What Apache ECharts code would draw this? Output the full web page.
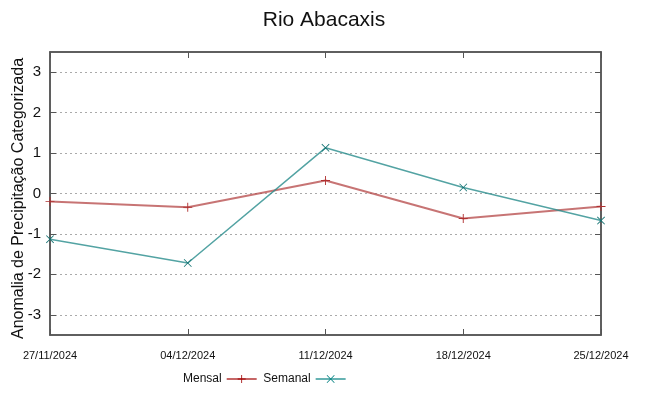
<!DOCTYPE html>
<html><head><meta charset="utf-8">
<script src="https://cdn.jsdelivr.net/npm/echarts@6/dist/echarts.min.js"></script>
<style>html,body{margin:0;padding:0;background:#fff}#c{width:648px;height:396px}</style>
</head><body><div id="c"></div>
<script>
const categories = ['27/11/2024','04/12/2024','11/12/2024','18/12/2024','25/12/2024'];
const mensal = [-0.20, -0.34, 0.32, -0.62, -0.32];
const semanal = [-1.13, -1.72, 1.13, 0.15, -0.67];
const yTicks = [-3,-2,-1,0,1,2,3];

const plusPath = 'path://M4.5,0 L5.5,0 L5.5,4.5 L10,4.5 L10,5.5 L5.5,5.5 L5.5,10 L4.5,10 L4.5,5.5 L0,5.5 L0,4.5 L4.5,4.5 Z';
const crossPath = 'path://M0,0.7 L0.7,0 L5,4.3 L9.3,0 L10,0.7 L5.7,5 L10,9.3 L9.3,10 L5,5.7 L0.7,10 L0,9.3 L4.3,5 Z';

const chart = echarts.init(document.getElementById('c'));
const axisLineStyle = {color:'#555', width:1.5};
chart.setOption({
  animation:false,
  title:{text:'Rio Abacaxis', left:'center', top:5, textStyle:{fontFamily:'Liberation Sans', fontSize:21, fontWeight:'normal', color:'#111'}},
  grid:{left:50, right:47, top:52, bottom:61, show:true, borderColor:'#555', borderWidth:1.5, containLabel:false, outerBoundsMode:'none'},
  legend:{top:373, left:183, padding:0, align:'right', itemWidth:30, itemHeight:10, itemGap:6,
    textStyle:{fontFamily:'Liberation Sans', fontSize:12, color:'#111'},
    data:[
      {name:'Mensal', itemStyle:{color:'#a00000'}, lineStyle:{color:'#a00000', width:1.2}},
      {name:'Semanal', itemStyle:{color:'#008080'}, lineStyle:{color:'#008080', width:1.2}}
    ]},
  xAxis:[
    {type:'category', data:categories, boundaryGap:false, position:'bottom',
     axisLine:{onZero:false, lineStyle:axisLineStyle}, axisTick:{inside:true, length:6, lineStyle:{color:'#555'}},
     axisLabel:{margin:15, fontFamily:'Liberation Sans', fontSize:11, color:'#111', interval:0},
     splitLine:{show:false}},
    {type:'category', data:categories, boundaryGap:false, position:'top',
     axisLine:{onZero:false, lineStyle:axisLineStyle}, axisTick:{inside:true, length:6, lineStyle:{color:'#555'}},
     axisLabel:{show:false}, splitLine:{show:false}}
  ],
  yAxis:[
    {type:'value', min:-3.5, max:3.5, position:'left',
     name:'Anomalia de Precipitação Categorizada', nameLocation:'middle', nameGap:23, nameRotate:90, nameMoveOverlap:false,
     nameTextStyle:{fontFamily:'Liberation Sans', fontSize:16, color:'#111', padding:[0,10,0,0]},
     axisLine:{show:true, onZero:false, lineStyle:axisLineStyle},
     axisTick:{show:true, inside:true, length:6, customValues:yTicks, lineStyle:{color:'#555'}},
     axisLabel:{fontFamily:'Liberation Sans', fontSize:15, color:'#111', margin:9, customValues:yTicks},
     splitLine:{show:true, lineStyle:{color:'#aaa', type:[2,3], width:1}}},
    {type:'value', min:-3.5, max:3.5, position:'right',
     axisLine:{show:true, onZero:false, lineStyle:axisLineStyle},
     axisTick:{show:true, inside:true, length:6, customValues:yTicks, lineStyle:{color:'#555'}},
     axisLabel:{show:false}, splitLine:{show:false}}
  ],
  series:[
    {name:'Mensal', type:'line', data:mensal, symbol:plusPath, symbolSize:9,
     lineStyle:{color:'rgba(180,70,70,0.75)', width:2},
     itemStyle:{color:'#b03030'}},
    {name:'Semanal', type:'line', data:semanal, symbol:crossPath, symbolSize:8,
     lineStyle:{color:'rgba(40,140,140,0.8)', width:1.5},
     itemStyle:{color:'#107070'}}
  ]
});
</script></body></html>
